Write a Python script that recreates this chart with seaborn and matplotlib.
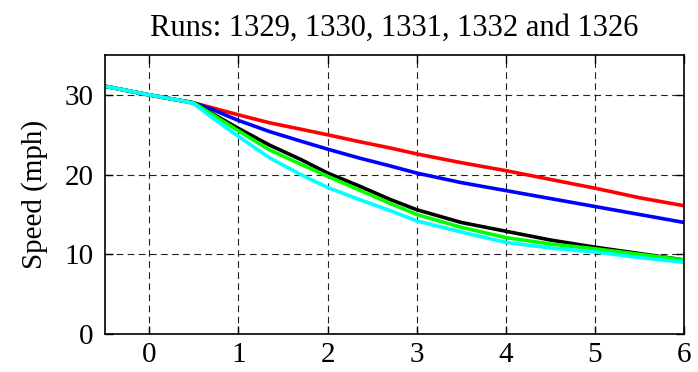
import matplotlib
matplotlib.use("Agg")
import matplotlib.pyplot as plt
import numpy as np
import pandas as pd
import seaborn as sns

# values
time = [-0.5, 0, 0.35, 0.5, 0.7, 1, 1.35, 1.7, 2, 2.35, 2.7, 3, 3.5, 4, 4.5, 5, 5.5, 6]
run_1329 = [31.1, 30.0, 29.3, 29.0, 28.4, 27.5, 26.5, 25.7, 25.0, 24.15, 23.35, 22.6, 21.5, 20.5, 19.4, 18.3, 17.1, 16.1]
run_1330 = [31.1, 30.0, 29.3, 29.0, 28.2, 26.8, 25.4, 24.2, 23.2, 22.1, 21.1, 20.2, 19.0, 18.0, 17.0, 16.0, 15.0, 14.0]
run_1331 = [31.1, 30.0, 29.3, 29.0, 27.7, 25.8, 23.7, 21.9, 20.2, 18.6, 16.9, 15.6, 14.0, 12.9, 11.8, 10.9, 10.1, 9.3]
run_1332 = [31.1, 30.0, 29.3, 29.0, 27.6, 25.5, 23.1, 21.3, 19.8, 18.1, 16.4, 15.0, 13.4, 12.1, 11.3, 10.7, 10.0, 9.3]
run_1326 = [31.1, 30.0, 29.3, 28.9, 27.2, 24.8, 22.1, 20.0, 18.4, 16.9, 15.5, 14.2, 12.8, 11.5, 10.8, 10.3, 9.6, 9.0]

runs = ["1329", "1330", "1331", "1332", "1326"]
colors = ["#ff0000", "#0000ff", "#000000", "#00ff00", "#00ffff"]
title = "Runs: 1329, 1330, 1331, 1332 and 1326"
ylabel = "Speed (mph)"

frames = []
for name, vals in zip(runs, [run_1329, run_1330, run_1331, run_1332, run_1326]):
    frames.append(pd.DataFrame({"time": time, "speed": vals, "run": name}))
df = pd.concat(frames, ignore_index=True)

sns.set_theme(style="white")
plt.rcParams["font.family"] = ["Liberation Serif", "DejaVu Serif"]
plt.rcParams["xtick.direction"] = "in"
plt.rcParams["ytick.direction"] = "in"

fig = plt.figure(figsize=(6.98, 3.72), dpi=100)
ax = fig.add_axes([0.150, 0.102, 0.830, 0.750])

sns.lineplot(data=df, x="time", y="speed", hue="run", hue_order=runs,
             palette=colors, linewidth=2.6, legend=False, ax=ax)

ax.set_xlim(-0.5, 6)
ax.set_ylim(0, 35)
ax.set_xticks([0, 1, 2, 3, 4, 5, 6])
ax.set_yticks([0, 10, 20, 30])
ax.grid(True, color="#222222", linestyle=(0, (6, 4)), linewidth=0.8)
ax.set_axisbelow(True)

for s in ax.spines.values():
    s.set_color("black")
    s.set_linewidth(1.2)

ax.tick_params(axis="both", labelsize=21, colors="black", length=6, width=1,
               top=True, right=True, bottom=True, left=True)
ax.tick_params(axis="x", pad=6)
ax.tick_params(axis="y", pad=8)

ax.set_xlabel("")
ax.set_ylabel(ylabel, fontsize=21, color="black", labelpad=12)
ax.set_title(title, fontsize=22, color="black", pad=14)

fig.savefig("out.png", dpi=100, facecolor="white")
